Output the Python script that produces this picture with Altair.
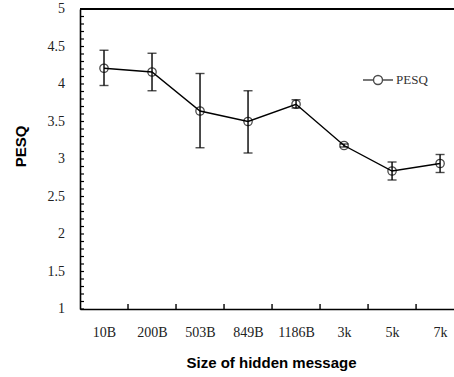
import altair as alt
import pandas as pd

categories = ["10B", "200B", "503B", "849B", "1186B", "3k", "5k", "7k"]
pesq = [4.21, 4.16, 3.64, 3.50, 3.73, 3.18, 2.84, 2.94]
err_hi = [4.45, 4.41, 4.14, 3.91, 3.79, 3.20, 2.96, 3.06]
err_lo = [3.98, 3.91, 3.15, 3.08, 3.68, 3.16, 2.72, 2.82]
y_label_values = [1, 1.5, 2, 2.5, 3, 3.5, 4, 4.5, 5]
y_label_texts = ["1", "1.5", "2", "2.5", "3", "3.5", "4", "4.5", "5"]
y_tick_values = [round(1 + 0.1 * i, 1) for i in range(41)]
x_tick_values = [i + 0.5 for i in range(7)]

W, H = 374, 300

df = pd.DataFrame({
    "idx": list(range(len(categories))),
    "cat": categories,
    "pesq": pesq,
    "hi": err_hi,
    "lo": err_lo,
    "series": ["PESQ"] * len(categories),
})

label_expr = "[" + ",".join(f"'{c}'" for c in categories) + "][datum.value]"

xscale = alt.Scale(domain=[-0.5, 7.29], nice=False, zero=False)
yscale = alt.Scale(domain=[1, 5], nice=False, zero=False)

x_axis = alt.Axis(
    values=list(range(8)), labelExpr=label_expr, ticks=False, grid=False,
    domainColor="black", domainWidth=1.6, labelFont="Liberation Serif",
    labelFontSize=14, labelColor="#222", labelPadding=16, labelOverlap=False,
    title="Size of hidden message", titleFont="Liberation Sans",
    titleFontSize=15, titleFontWeight="bold", titlePadding=16, titleX=191,
)
y_axis = alt.Axis(
    labels=False, ticks=False, grid=False,
    domainColor="black", domainWidth=1.6,
    title="PESQ", titleFont="Liberation Sans", titleFontSize=15,
    titleFontWeight="bold", titleX=-52, titleY=137,
)

base = alt.Chart(df)

color = alt.Color(
    "series:N",
    scale=alt.Scale(range=["black"]),
    legend=alt.Legend(
        title=None, orient="none", legendX=282, legendY=55,
        symbolType="M-1,0H-0.3M0.3,0H1M0.3,0A0.3,0.3 0 1 1 -0.3,0A0.3,0.3 0 1 1 0.3,0",
        symbolSize=900, symbolStrokeWidth=1.4, symbolFillColor="transparent",
        symbolStrokeColor="black", labelFont="Liberation Serif",
        labelFontSize=13, labelColor="#333", labelOffset=2,
    ),
)

line = base.mark_line(color="black", strokeWidth=1.4).encode(
    x=alt.X("idx:Q", scale=xscale, axis=x_axis),
    y=alt.Y("pesq:Q", scale=yscale, axis=y_axis),
)
bars = base.mark_rule(color="black", strokeWidth=1.4).encode(
    x=alt.X("idx:Q", scale=xscale), y=alt.Y("lo:Q", scale=yscale), y2="hi:Q"
)
cap_hi = base.mark_tick(color="black", thickness=1.4, size=9, orient="horizontal").encode(
    x=alt.X("idx:Q", scale=xscale), y=alt.Y("hi:Q", scale=yscale)
)
cap_lo = base.mark_tick(color="black", thickness=1.4, size=9, orient="horizontal").encode(
    x=alt.X("idx:Q", scale=xscale), y=alt.Y("lo:Q", scale=yscale)
)
points = base.mark_point(shape="circle", size=70, strokeWidth=1.3, filled=False).encode(
    x=alt.X("idx:Q", scale=xscale), y=alt.Y("pesq:Q", scale=yscale), color=color
)

ytick_df = pd.DataFrame({"yv": y_tick_values})
yticks = alt.Chart(ytick_df).mark_rule(color="black", strokeWidth=1.2).encode(
    y=alt.Y("yv:Q", scale=yscale), x=alt.value(0), x2=alt.value(4)
)
xtick_df = pd.DataFrame({"xv": x_tick_values})
xticks = alt.Chart(xtick_df).mark_rule(color="black", strokeWidth=1.4).encode(
    x=alt.X("xv:Q", scale=xscale), y=alt.value(H), y2=alt.value(H - 5)
)
top = alt.Chart(xtick_df).mark_rule(color="black", strokeWidth=1.8).encode(
    x=alt.value(0), x2=alt.value(W), y=alt.value(0)
)
ylab_df = pd.DataFrame({"v": y_label_values, "t": y_label_texts})
ylabels = alt.Chart(ylab_df).mark_text(
    align="right", baseline="middle", font="Liberation Serif", fontSize=14, color="#222"
).encode(
    y=alt.Y("v:Q", scale=yscale), x=alt.value(-15), text="t:N"
)

chart = alt.layer(line, bars, cap_hi, cap_lo, points, yticks, xticks, top, ylabels).properties(
    width=W, height=H,
    autosize=alt.AutoSizeParams(type="none"),
    padding={"left": 80, "top": 9, "right": 0, "bottom": 68},
).configure_view(stroke=None).configure(background="white")

chart.save("out.html", embed_options={"renderer": "svg", "actions": False})
